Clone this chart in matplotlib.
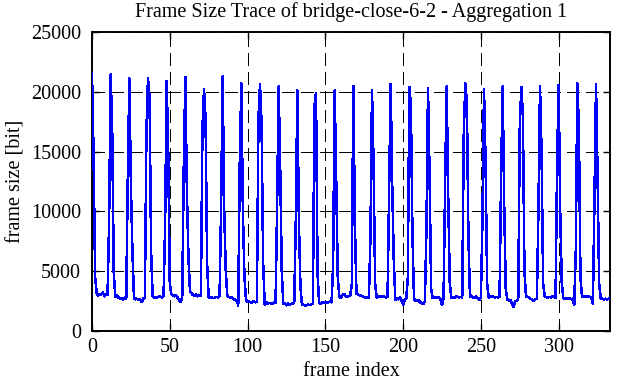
import numpy as np
import matplotlib
matplotlib.use("Agg")
import matplotlib.pyplot as plt

# frame sizes in bit, one row per 12-frame GOP (I frame first)
frame_bits = [
    [21580, 14800, 4500, 3150, 2950, 3100, 3050, 3200, 2900, 3100, 3050, 9200],
    [21450, 16700, 4800, 2850, 2950, 2800, 2700, 2750, 2650, 2800, 2700, 12800],
    [21100, 12200, 6600, 2750, 2650, 2700, 2600, 2650, 2420, 2700, 2800, 16800],
    [21150, 19500, 6600, 2900, 2800, 2850, 2800, 2900, 2850, 2800, 2900, 8900],
    [20900, 15000, 4000, 3100, 2950, 2900, 3000, 2800, 2600, 2420, 2850, 13900],
    [21250, 11600, 6200, 3300, 3150, 3000, 2950, 3050, 2900, 3000, 2950, 16900],
    [20200, 17800, 5600, 2800, 2850, 2800, 2750, 2800, 2850, 2800, 2900, 10400],
    [21300, 10000, 5000, 2900, 2850, 2750, 2800, 2700, 2600, 2550, 2150, 14200],
    [20700, 10000, 4500, 2600, 2450, 2450, 2400, 2400, 2500, 2400, 2450, 17800],
    [20600, 17400, 5800, 2200, 2400, 2300, 2350, 2300, 2250, 2400, 2350, 10500],
    [20450, 13500, 4900, 2250, 2300, 2150, 2300, 2200, 2250, 2300, 2350, 9200],
    [20100, 9100, 3700, 2150, 2200, 2100, 2150, 2200, 2150, 2250, 2300, 18800],
    [19900, 4800, 2350, 2300, 2400, 2350, 2400, 2350, 2400, 2450, 2400, 5500],
    [20100, 12600, 4500, 2850, 2750, 3000, 3100, 2950, 2850, 2900, 3000, 3900],
    [20500, 9000, 3100, 3050, 3000, 2950, 2900, 2850, 2800, 2850, 2750, 7900],
    [20100, 14000, 4000, 2800, 2850, 2900, 2850, 2900, 2850, 2800, 2850, 11800],
    [20670, 12150, 5900, 2600, 2750, 2650, 2800, 2550, 2200, 2600, 2700, 4400],
    [20400, 18900, 8100, 2700, 2500, 2600, 2550, 2400, 2300, 2250, 2500, 8500],
    [20300, 13100, 3500, 2750, 2850, 2800, 2750, 2850, 2700, 2150, 2750, 12300],
    [20470, 11200, 4000, 2800, 2850, 2800, 2900, 2850, 2800, 2850, 2800, 16600],
    [20700, 19100, 7700, 2850, 2950, 2800, 2750, 2900, 2700, 2600, 2800, 9200],
    [20200, 14200, 4000, 2800, 2850, 2900, 2850, 2800, 2850, 2800, 2850, 13100],
    [20470, 10400, 3500, 2650, 2550, 2600, 2300, 2000, 2450, 2550, 2600, 17100],
    [20400, 18000, 5000, 2900, 2850, 2800, 2700, 2600, 2500, 2650, 2700, 10200],
    [20470, 15000, 4000, 2900, 2850, 2800, 2850, 2800, 2900, 2850, 2800, 14100],
    [20560, 9900, 4000, 2750, 2700, 2750, 2700, 2750, 2650, 2700, 2200, 6700],
    [20700, 17000, 4500, 2850, 2950, 2900, 2850, 2900, 2850, 2800, 2300, 10900],
    [20610, 13100, 4000, 2750, 2700, 2650, 2700, 2650, 2700, 2700],
]
x_ticks = [0, 50, 100, 150, 200, 250, 300]
y_ticks = [0, 5000, 10000, 15000, 20000, 25000]

sizes = np.concatenate([np.array(g) for g in frame_bits])
frames = np.arange(len(sizes))

plt.rcParams['font.family'] = ['Liberation Serif', 'DejaVu Serif']

fig = plt.figure(figsize=(6.17, 3.82), dpi=100)
ax = fig.add_axes([92/617, 51/382, 518/617, 299/382])

ax.plot(frames, sizes, color='#0000ff', lw=1.1, antialiased=False, zorder=3)

ax.set_xlim(0, len(sizes) - 1)
ax.set_ylim(0, 25000)
ax.set_xticks(x_ticks)
ax.set_yticks(y_ticks)
ax.tick_params(direction='in', length=5, width=1, labelsize=14.5,
               top=True, right=True, colors='black')
ax.tick_params(axis='y', pad=8)
ax.tick_params(axis='x', pad=5)
ax.grid(True, color='black', lw=0.9, linestyle=(0, (10, 5)), antialiased=False)
for s in ax.spines.values():
    s.set_linewidth(1.4)

fig.text(351/617, 1 - 12/382, 'Frame Size Trace of bridge-close-6-2 - Aggregation 1',
         ha='center', va='center', fontsize=14.5)
ax.set_xlabel('frame index', fontsize=14.5, labelpad=4)
ax.set_ylabel('frame size [bit]', fontsize=14.5, labelpad=4)

fig.savefig('out.png', dpi=100)
